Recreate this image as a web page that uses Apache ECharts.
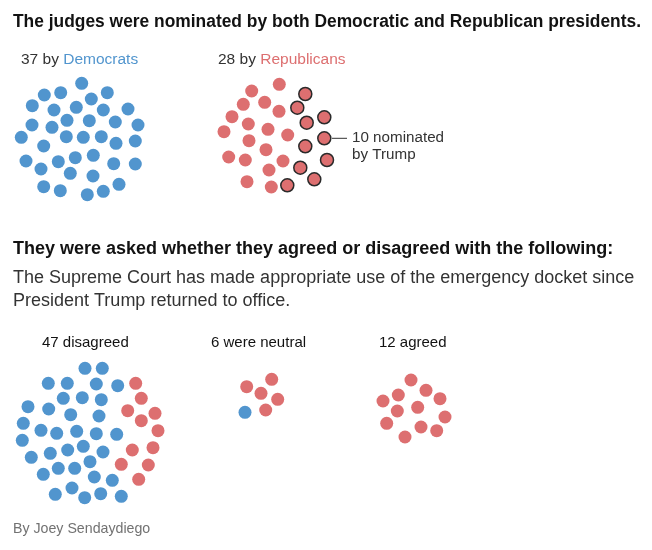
<!DOCTYPE html>
<html>
<head>
<meta charset="utf-8">
<script src="https://cdn.jsdelivr.net/npm/echarts@6/dist/echarts.min.js"></script>
<style>
html,body{margin:0;padding:0;background:#fff;}
#chart{width:652px;height:550px;}
</style>
</head>
<body>
<div id="chart"></div>
<script>
// Dot positions (chart units)
const demDots = [[81.7,83.3],[44.3,95],[60.7,92.7],[107.3,92.7],[91.3,99],[32.3,105.7],[54,110],[76.3,107.3],[103.3,110],[128,109],[32,125],[52,127.3],[67,120.3],[89.3,120.7],[115.3,122],[138,125],[21.3,137.3],[66.3,136.7],[83.3,137.3],[101.3,136.7],[43.7,146],[116,143.3],[135.3,141],[26,161],[58.3,161.7],[75.3,157.7],[93.3,155.3],[113.7,163.7],[135.3,164],[41,169],[70.3,173.3],[93,176],[43.7,186.7],[60.3,190.7],[87.3,194.7],[103.3,191.3],[119,184.3]];
const repDots = [[279.3,84.3],[251.7,91],[243.3,104.3],[264.7,102.3],[279,111.3],[232,116.7],[248.3,124],[268,129.3],[224,131.7],[287.7,135],[249,140.7],[266,149.7],[228.7,157],[245.3,160],[283,161],[269,170],[247,181.7],[271.3,187]];
const trumpDots = [[305.3,94],[297.3,107.7],[324.3,117.3],[306.7,122.7],[324.3,138.3],[305.3,146.3],[327,160],[300.3,167.7],[314.3,179.3],[287.3,185.3]];
const disagreeBlue = [[85,368.3],[102.3,368.3],[48.3,383.3],[67.3,383.3],[96.3,384],[117.7,385.7],[63.3,398.3],[82.3,397.7],[101.3,399.7],[28,406.7],[48.7,409],[70.7,414.7],[99,416],[23.3,423.3],[41,430.3],[56.7,433.3],[76.7,431.3],[96.3,433.7],[116.7,434.3],[22.3,440.3],[50.3,453.3],[67.7,450],[83.3,446.3],[103,452],[31.3,457.3],[58.3,468.3],[74.7,468.3],[90,461.7],[43.3,474.3],[94.3,477],[112.3,480.3],[72,488],[55.3,494.3],[84.7,497.7],[100.7,493.7],[121.3,496.3]];
const disagreeRed = [[135.7,383.3],[141.3,398.3],[127.7,410.7],[155,413.3],[141.3,420.7],[158,430.7],[132.3,450],[153,447.7],[121.3,464.3],[148.3,465],[138.7,479.3]];
const neutralRed = [[271.7,379.3],[246.7,386.7],[261,393.3],[277.7,399.3],[265.7,410]];
const neutralBlue = [[245,412.3]];
const agreedRed = [[411,380],[426,390.3],[398.3,395],[383,401],[440,398.7],[397.3,411],[417.7,407.3],[445,417],[386.7,423.3],[421,427],[436.7,430.7],[405,437]];

const BLUE = '#5195ce';
const RED = '#dd6f70';
const FONT = '"Liberation Sans", Arial, sans-serif';
const DOT = 13;

function dots(name, data, color, border) {
  return {
    type: 'scatter', name, data, symbolSize: DOT, silent: true,
    itemStyle: { color, opacity: 1, borderColor: border ? '#2a2a2a' : color, borderWidth: border ? 1.5 : 0 }
  };
}
function txt(x, y, text, size, weight, color, extra) {
  return Object.assign({ type: 'text', x, y, silent: true, style: { text, font: `${weight} ${size}px ${FONT}`, fill: color, textVerticalAlign: 'middle' } }, extra || {});
}

const chart = echarts.init(document.getElementById('chart'), null, { renderer: 'canvas' });
chart.setOption({
  animation: false,
  backgroundColor: '#fff',
  grid: { left: 0, right: 0, top: 0, bottom: 0 },
  xAxis: { type: 'value', min: 0, max: 652, show: false },
  yAxis: { type: 'value', min: 0, max: 550, inverse: true, show: false },
  series: [
    dots('Democrats', demDots, BLUE, false),
    dots('Republicans', repDots, RED, false),
    dots('Trump', trumpDots, RED, true),
    dots('Disagree D', disagreeBlue, BLUE, false),
    dots('Disagree R', disagreeRed, RED, false),
    dots('Neutral R', neutralRed, RED, false),
    dots('Neutral D', neutralBlue, BLUE, false),
    dots('Agreed R', agreedRed, RED, false)
  ],
  graphic: [
    txt(13, 22, 'The judges were nominated by both Democratic and Republican presidents.', 18, 'bold', '#121212', { scaleX: 0.966 }),
    { type: 'text', x: 21, y: 60, silent: true, style: { text: '{a|37 by }{b|Democrats}', textVerticalAlign: 'middle',
      rich: { a: { font: `normal 15.5px ${FONT}`, fill: '#333' }, b: { font: `normal 15.5px ${FONT}`, fill: BLUE } } } },
    { type: 'text', x: 218, y: 60, silent: true, style: { text: '{a|28 by }{b|Republicans}', textVerticalAlign: 'middle',
      rich: { a: { font: `normal 15.5px ${FONT}`, fill: '#333' }, b: { font: `normal 15.5px ${FONT}`, fill: RED } } } },
    { type: 'line', silent: true, shape: { x1: 332, y1: 138.3, x2: 347, y2: 138.3 }, style: { stroke: '#333', lineWidth: 1 } },
    txt(352, 138, '10 nominated', 15.2, 'normal', '#333'),
    txt(352, 155, 'by Trump', 15.2, 'normal', '#333'),
    txt(13, 249, 'They were asked whether they agreed or disagreed with the following:', 18, 'bold', '#121212'),
    txt(13, 278, 'The Supreme Court has made appropriate use of the emergency docket since', 18, 'normal', '#333'),
    txt(13, 301, 'President Trump returned to office.', 18, 'normal', '#333'),
    txt(42, 343, '47 disagreed', 15, 'normal', '#121212'),
    txt(211, 343, '6 were neutral', 15, 'normal', '#121212'),
    txt(379, 343, '12 agreed', 15, 'normal', '#121212'),
    txt(13, 529, 'By Joey Sendaydiego', 14.2, 'normal', '#727272')
  ]
});
</script>
</body>
</html>
